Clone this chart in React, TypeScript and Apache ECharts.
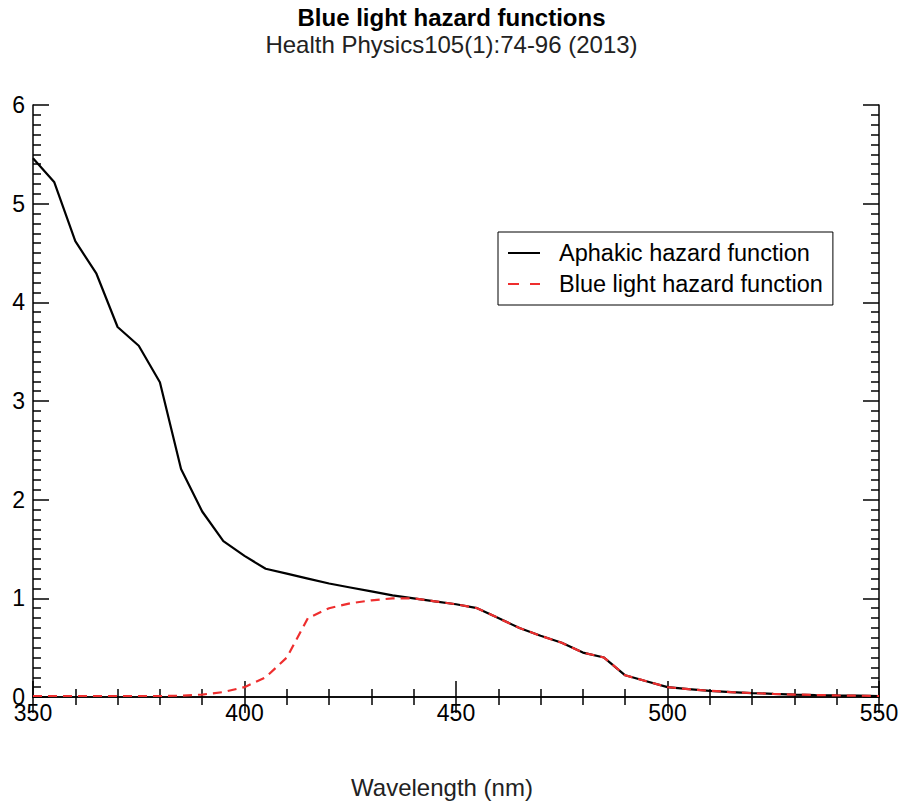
import React, { useEffect, useRef } from "react";
import * as echarts from "echarts";

const wavelengths = [
  350, 355, 360, 365, 370, 375, 380, 385, 390, 395, 400, 405, 410, 415, 420, 425,
  430, 435, 440, 445, 450, 455, 460, 465, 470, 475, 480, 485, 490, 495, 500, 505,
  510, 515, 520, 525, 530, 535, 540, 545, 550,
];
const aphakic = [
  5.46, 5.22, 4.62, 4.29, 3.75, 3.56, 3.19, 2.31, 1.88, 1.58, 1.43, 1.3, 1.25, 1.2,
  1.15, 1.11, 1.07, 1.03, 1.0, 0.97, 0.94, 0.9, 0.8, 0.7, 0.62, 0.55, 0.45, 0.4,
  0.22, 0.16, 0.1, 0.079, 0.063, 0.05, 0.04, 0.032, 0.025, 0.02, 0.016, 0.013, 0.01,
];
const blueLight = [
  0.01, 0.01, 0.01, 0.01, 0.01, 0.01, 0.01, 0.013, 0.025, 0.05, 0.1, 0.2, 0.4, 0.8,
  0.9, 0.95, 0.98, 1.0, 1.0, 0.97, 0.94, 0.9, 0.8, 0.7, 0.62, 0.55, 0.45, 0.4,
  0.22, 0.16, 0.1, 0.079, 0.063, 0.05, 0.04, 0.032, 0.025, 0.02, 0.016, 0.013, 0.01,
];
const seriesNames = ["Aphakic hazard function", "Blue light hazard function"];
const titleText = "Blue light hazard functions";
const subtitleText = "Health Physics105(1):74-96 (2013)";
const xAxisName = "Wavelength (nm)";

const FONT = "'Liberation Sans', Arial, Helvetica, sans-serif";
const SOLID_ICON = "path://M0,0h32v2h-32z";
const DASHED_ICON = "path://M0,0h11v2h-11z M22,0h10v2h-10z";

export default function App() {
  const ref = useRef<HTMLDivElement>(null);
  useEffect(() => {
    if (!ref.current) return;
    const chart = echarts.init(ref.current, undefined, { renderer: "svg" });
    const axisLine = { show: true, lineStyle: { color: "#000", width: 1.5 } };
    const tick = { show: true, inside: true, length: 16, lineStyle: { color: "#000", width: 1.5 } };
    const xMinor = { show: true, splitNumber: 5, length: 8, lineStyle: { color: "#000", width: 1.5 } };
    const yMinor = { show: true, splitNumber: 10, length: 8, lineStyle: { color: "#000", width: 1.5 } };
    chart.setOption({
      animation: false,
      backgroundColor: "#fff",
      title: [
        {
          text: titleText,
          left: "center",
          top: 0,
          textStyle: { fontFamily: FONT, fontSize: 24, fontWeight: "bold", color: "#000" },
        },
        {
          text: subtitleText,
          left: "center",
          top: 27,
          textStyle: { fontFamily: FONT, fontSize: 24, fontWeight: "normal", color: "#222" },
        },
      ],
      legend: {
        orient: "vertical",
        left: 498,
        top: 232,
        padding: [9, 10, 9, 10],
        itemGap: 7,
        itemWidth: 32,
        itemHeight: 14,
        symbolKeepAspect: true,
        borderColor: "#000",
        borderWidth: 1,
        data: [
          { name: seriesNames[0], icon: SOLID_ICON },
          { name: seriesNames[1], icon: DASHED_ICON },
        ],
        textStyle: { fontFamily: FONT, fontSize: 23.5, color: "#000", padding: [0, 0, 0, 14] },
      },
      grid: { left: 33, right: 24, top: 105, bottom: 108 },
      xAxis: [
        {
          type: "value",
          min: 350,
          max: 550,
          interval: 50,
          name: xAxisName,
          nameLocation: "middle",
          nameGap: 78,
          nameTextStyle: { fontFamily: FONT, fontSize: 24, color: "#222", padding: [0, 28, 0, 0] },
          axisLine,
          axisTick: tick,
          minorTick: xMinor,
          splitLine: { show: false },
          axisLabel: { fontFamily: FONT, fontSize: 23, color: "#000", margin: 4 },
        },
        {
          type: "value",
          position: "top",
          min: 350,
          max: 550,
          interval: 50,
          axisLine,
          axisTick: tick,
          minorTick: xMinor,
          splitLine: { show: false },
          axisLabel: { show: false },
        },
      ],
      yAxis: [
        {
          type: "value",
          min: 0,
          max: 6,
          interval: 1,
          axisLine,
          axisTick: tick,
          minorTick: yMinor,
          splitLine: { show: false },
          axisLabel: { fontFamily: FONT, fontSize: 23, color: "#000", margin: 8 },
        },
        {
          type: "value",
          position: "right",
          min: 0,
          max: 6,
          interval: 1,
          axisLine,
          axisTick: tick,
          minorTick: yMinor,
          splitLine: { show: false },
          axisLabel: { show: false },
        },
      ],
      series: [
        {
          name: seriesNames[0],
          type: "line",
          symbol: "none",
          xAxisIndex: 0,
          yAxisIndex: 0,
          data: wavelengths.map((w, i) => [w, aphakic[i]]),
          lineStyle: { color: "#000", width: 2.2 },
          itemStyle: { color: "#000" },
        },
        {
          name: seriesNames[1],
          type: "line",
          symbol: "none",
          xAxisIndex: 0,
          yAxisIndex: 0,
          data: wavelengths.map((w, i) => [w, blueLight[i]]),
          lineStyle: { color: "#ee2e2e", width: 2.2, type: [9, 6] },
          itemStyle: { color: "#ee2e2e" },
        },
      ],
    });
    return () => chart.dispose();
  }, []);
  return (
    <div
      ref={ref}
      style={{ position: "fixed", left: 0, top: 0, width: 903, height: 805 }}
    />
  );
}
